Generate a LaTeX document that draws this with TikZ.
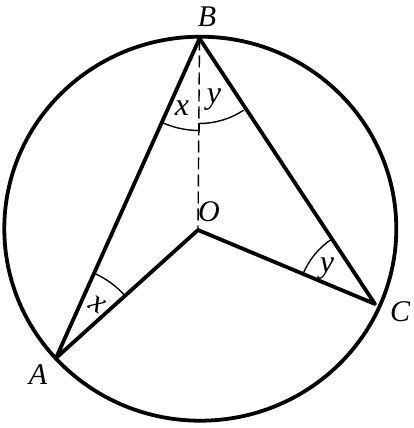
\documentclass[tikz,border=0pt]{standalone}
\usepackage{fontspec}
\setmainfont{Liberation Serif}
\begin{document}
\begin{tikzpicture}[x=1pt,y=-1pt,
  edge/.style={line width=3.8pt, line cap=round, line join=round},
  anglearc/.style={line width=1.4pt},
  dashline/.style={line width=1.4pt, dash pattern=on 12pt off 5pt},
  ptlabel/.style={font=\fontsize{30}{30}\selectfont\itshape, inner sep=0pt},
  anglabel/.style={font=\fontsize{32}{32}\selectfont\itshape, inner sep=0pt}]
\useasboundingbox (0,0) rectangle (414,428);
\draw[edge] (200.3,228.7) ellipse [x radius=196pt, y radius=192pt];
\coordinate (B) at (199.5,38.5);
\coordinate (O) at (198,230);
\coordinate (A) at (56,358);
\coordinate (C) at (375,304);
\draw[dashline] (B) -- (O);
\draw[edge] (A) -- (B) -- (C) -- (O) -- cycle;
% angle arcs
\draw[anglearc] (B) ++(114.2:92) arc[start angle=114.2, end angle=90.4, radius=92];
\draw[anglearc] (B) ++(90.4:85) arc[start angle=90.4, end angle=56.5, radius=80];
\draw[anglearc] (199.2,123) -- (199,133);
\draw[anglearc] (A) ++(-65.8:93) arc[start angle=-65.8, end angle=-42, radius=93];
\draw[anglearc] (C) ++(202.7:78) arc[start angle=202.7, end angle=236.5, radius=78];
% labels
\node[ptlabel] (lB) at (207,17) {B};
\node[ptlabel] (lO) at (209,212) {O};
\node[ptlabel] (lA) at (38,375) {A};
\node[ptlabel] (lC) at (400,312) {C};
\node[anglabel] (xB) at (182,108) {x};
\node[anglabel] (yB) at (214,100) {y};
\node[anglabel, rotate=-30] (xA) at (97,305) {x};
\node[anglabel] (yC) at (327,269) {y};
\end{tikzpicture}
\end{document}
